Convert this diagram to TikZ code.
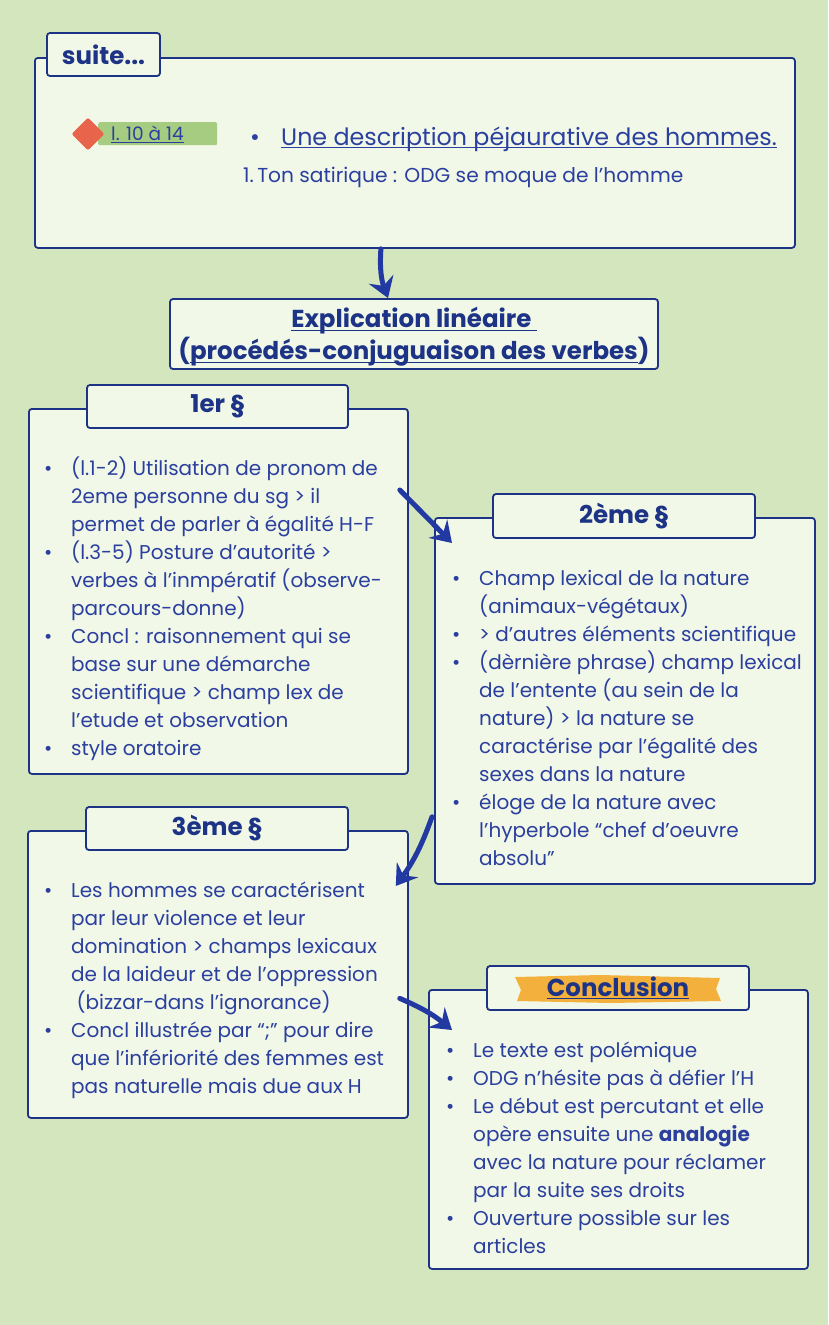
\documentclass[tikz,border=0pt]{standalone}
\usepackage{fontspec}
\setmainfont{Poppins}
\usetikzlibrary{positioning,arrows.meta,shapes.geometric}

\definecolor{bgGreen}{HTML}{D3E6BE}
\definecolor{boxFill}{HTML}{F1F8E8}
\definecolor{navy}{HTML}{1C3386}
\definecolor{inkBlue}{HTML}{2B3F9E}
\definecolor{arrowBlue}{HTML}{2239A2}
\definecolor{tagGreen}{HTML}{A6CC82}
\definecolor{tagRed}{HTML}{E8644A}
\definecolor{brushOrange}{HTML}{F4B03C}

\newsavebox{\undlbox}
\newcommand{\undl}[1]{\sbox{\undlbox}{#1}\rlap{\rule[-3pt]{\wd\undlbox}{1.3pt}}\usebox{\undlbox}}
\newcommand{\bpt}{\makebox[27pt][l]{\textbullet}}
\newcommand{\bsp}{\hspace*{27pt}}

\begin{document}
\begin{tikzpicture}[x=1pt,y=-1pt,
  box/.style={draw=navy,fill=boxFill,line width=1.8pt,rounded corners=3pt,anchor=north west,inner sep=0pt},
  tab/.style={draw=navy,fill=boxFill,line width=1.8pt,rounded corners=3pt,inner sep=0pt,text=navy,font=\bfseries\fontsize{24.5}{24.5}\selectfont},
  body/.style={anchor=base west,align=left,inner sep=0pt,text=inkBlue,font=\fontsize{20}{28}\selectfont},
  arr/.style={draw=arrowBlue,line width=5pt,line cap=round,-{Stealth[length=20pt,width=26pt,inset=7pt]}}
]
  \useasboundingbox (0,0) rectangle (828,1325);
  \fill[bgGreen] (0,0) rectangle (828,1325);

  % top box
  \node[box,minimum width=760,minimum height=190] (suite) at (34,57) {};
  \node[tab,minimum width=113,minimum height=43] (suiteTab) at (103.5,54.5) {suite...};
  \node[fill=tagGreen,rounded corners=2pt,minimum width=119,minimum height=23,anchor=north west,inner sep=0pt] (tag) at (98,122) {};
  \node[diamond,fill=tagRed,minimum size=33,inner sep=0pt,rounded corners=2pt] (dia) at (88,134) {};
  \node[anchor=base west,inner sep=0pt,text=inkBlue,font=\fontsize{18.5}{18.5}\selectfont] (tagText) at (111,140) {\undl{l. 10 à 14}};
  \node[anchor=base west,inner sep=0pt,text=inkBlue,font=\fontsize{23.8}{23.8}\selectfont] (desc) at (250,145) {\makebox[31pt][l]{\textbullet}\undl{Une description péjaurative des hommes.}};
  \node[anchor=base west,inner sep=0pt,text=inkBlue,font=\fontsize{20.2}{20.2}\selectfont] (ton) at (243,182) {1.\,Ton satirique : ODG se moque de l’homme};

  % explication
  \node[box,anchor=center,minimum width=488,minimum height=70,text depth=0pt,align=center,text=navy,font=\bfseries\fontsize{24.5}{32}\selectfont] (expl) at (414,334) {};
  \node[align=center,inner sep=0pt,text=navy,font=\bfseries\fontsize{24.5}{32}\selectfont] (explText) at (414,337)
    {\undl{Explication linéaire\ }\\(\undl{procédés-conjuguaison des verbes})};

  % 1er paragraphe
  \node[box,minimum width=379,minimum height=365] (par1) at (28,408) {};
  \node[tab,minimum width=261,minimum height=43] (par1Tab) at (217.5,406.5) {1er §};
  \node[body] (par1Text) at (44,755) {\bpt(l.1-2) Utilisation de pronom de\\
    \bsp 2eme personne du sg > il\\
    \bsp permet de parler à égalité H-F\\
    \bpt(l.3-5) Posture d’autorité >\\
    \bsp verbes à l’inmpératif (observe-\\
    \bsp parcours-donne)\\
    \bpt Concl : raisonnement qui se\\
    \bsp base sur une démarche\\
    \bsp scientifique > champ lex de\\
    \bsp l’etude et observation\\
    \bpt style oratoire};

  % 2eme paragraphe
  \node[box,minimum width=380,minimum height=366] (par2) at (434,517) {};
  \node[tab,minimum width=262,minimum height=44] (par2Tab) at (624,516) {2ème §};
  \node[body] (par2Text) at (452,865) {\bpt Champ lexical de la nature\\
    \bsp(animaux-végétaux)\\
    \bpt > d’autres éléments scientifique\\
    \bpt(dèrnière phrase) champ lexical\\
    \bsp de l’entente (au sein de la\\
    \bsp nature) > la nature se\\
    \bsp caractérise par l’égalité des\\
    \bsp sexes dans la nature\\
    \bpt éloge de la nature avec\\
    \bsp l’hyperbole “chef d’oeuvre\\
    \bsp absolu”};

  % 3eme paragraphe
  \node[box,minimum width=380,minimum height=287] (par3) at (27,830) {};
  \node[tab,minimum width=262,minimum height=43] (par3Tab) at (217,828.5) {3ème §};
  \node[body] (par3Text) at (44,1093) {\bpt Les hommes se caractérisent\\
    \bsp par leur violence et leur\\
    \bsp domination > champs lexicaux\\
    \bsp de la laideur et de l’oppression\\
    \bsp\ (bizzar-dans l’ignorance)\\
    \bpt Concl illustrée par “;” pour dire\\
    \bsp que l’infériorité des femmes est\\
    \bsp pas naturelle mais due aux H};

  % conclusion
  \node[box,minimum width=379,minimum height=279] (concl) at (428,989) {};
  \node[tab,minimum width=262,minimum height=44] (conclTab) at (618,988) {};
  \fill[brushOrange] (515,977) -- (600,975) -- (720,978) -- (716,989) -- (721,1001) -- (610,1003) -- (517,1001) -- (521,990) -- cycle;
  \node[text=navy,font=\bfseries\fontsize{24.5}{24.5}\selectfont,inner sep=0pt] (conclTitle) at (conclTab) {\undl{Conclusion}};
  \node[body] (conclText) at (446,1253) {\bpt Le texte est polémique\\
    \bpt ODG n’hésite pas à défier l’H\\
    \bpt Le début est percutant et elle\\
    \bsp opère ensuite une \textbf{analogie}\\
    \bsp avec la nature pour réclamer\\
    \bsp par la suite ses droits\\
    \bpt Ouverture possible sur les\\
    \bsp articles};

  % arrows
  \draw[arr] ([xshift=-34pt]suite.south) to[bend right=12] ([xshift=-26pt]expl.north);
  \draw[arr] ([shift={(-9,82)}]par1.north east) -- ([shift={(18,26)}]par2.north west);
  \draw[arr] ([shift={(-2,-68)}]par2.south west) to[bend left=8] ([shift={(-13,56)}]par3.north east);
  \draw[arr] ([shift={(-9,24)}]par3.east) to[bend left=8] ([shift={(24,41)}]concl.north west);
\end{tikzpicture}
\end{document}
